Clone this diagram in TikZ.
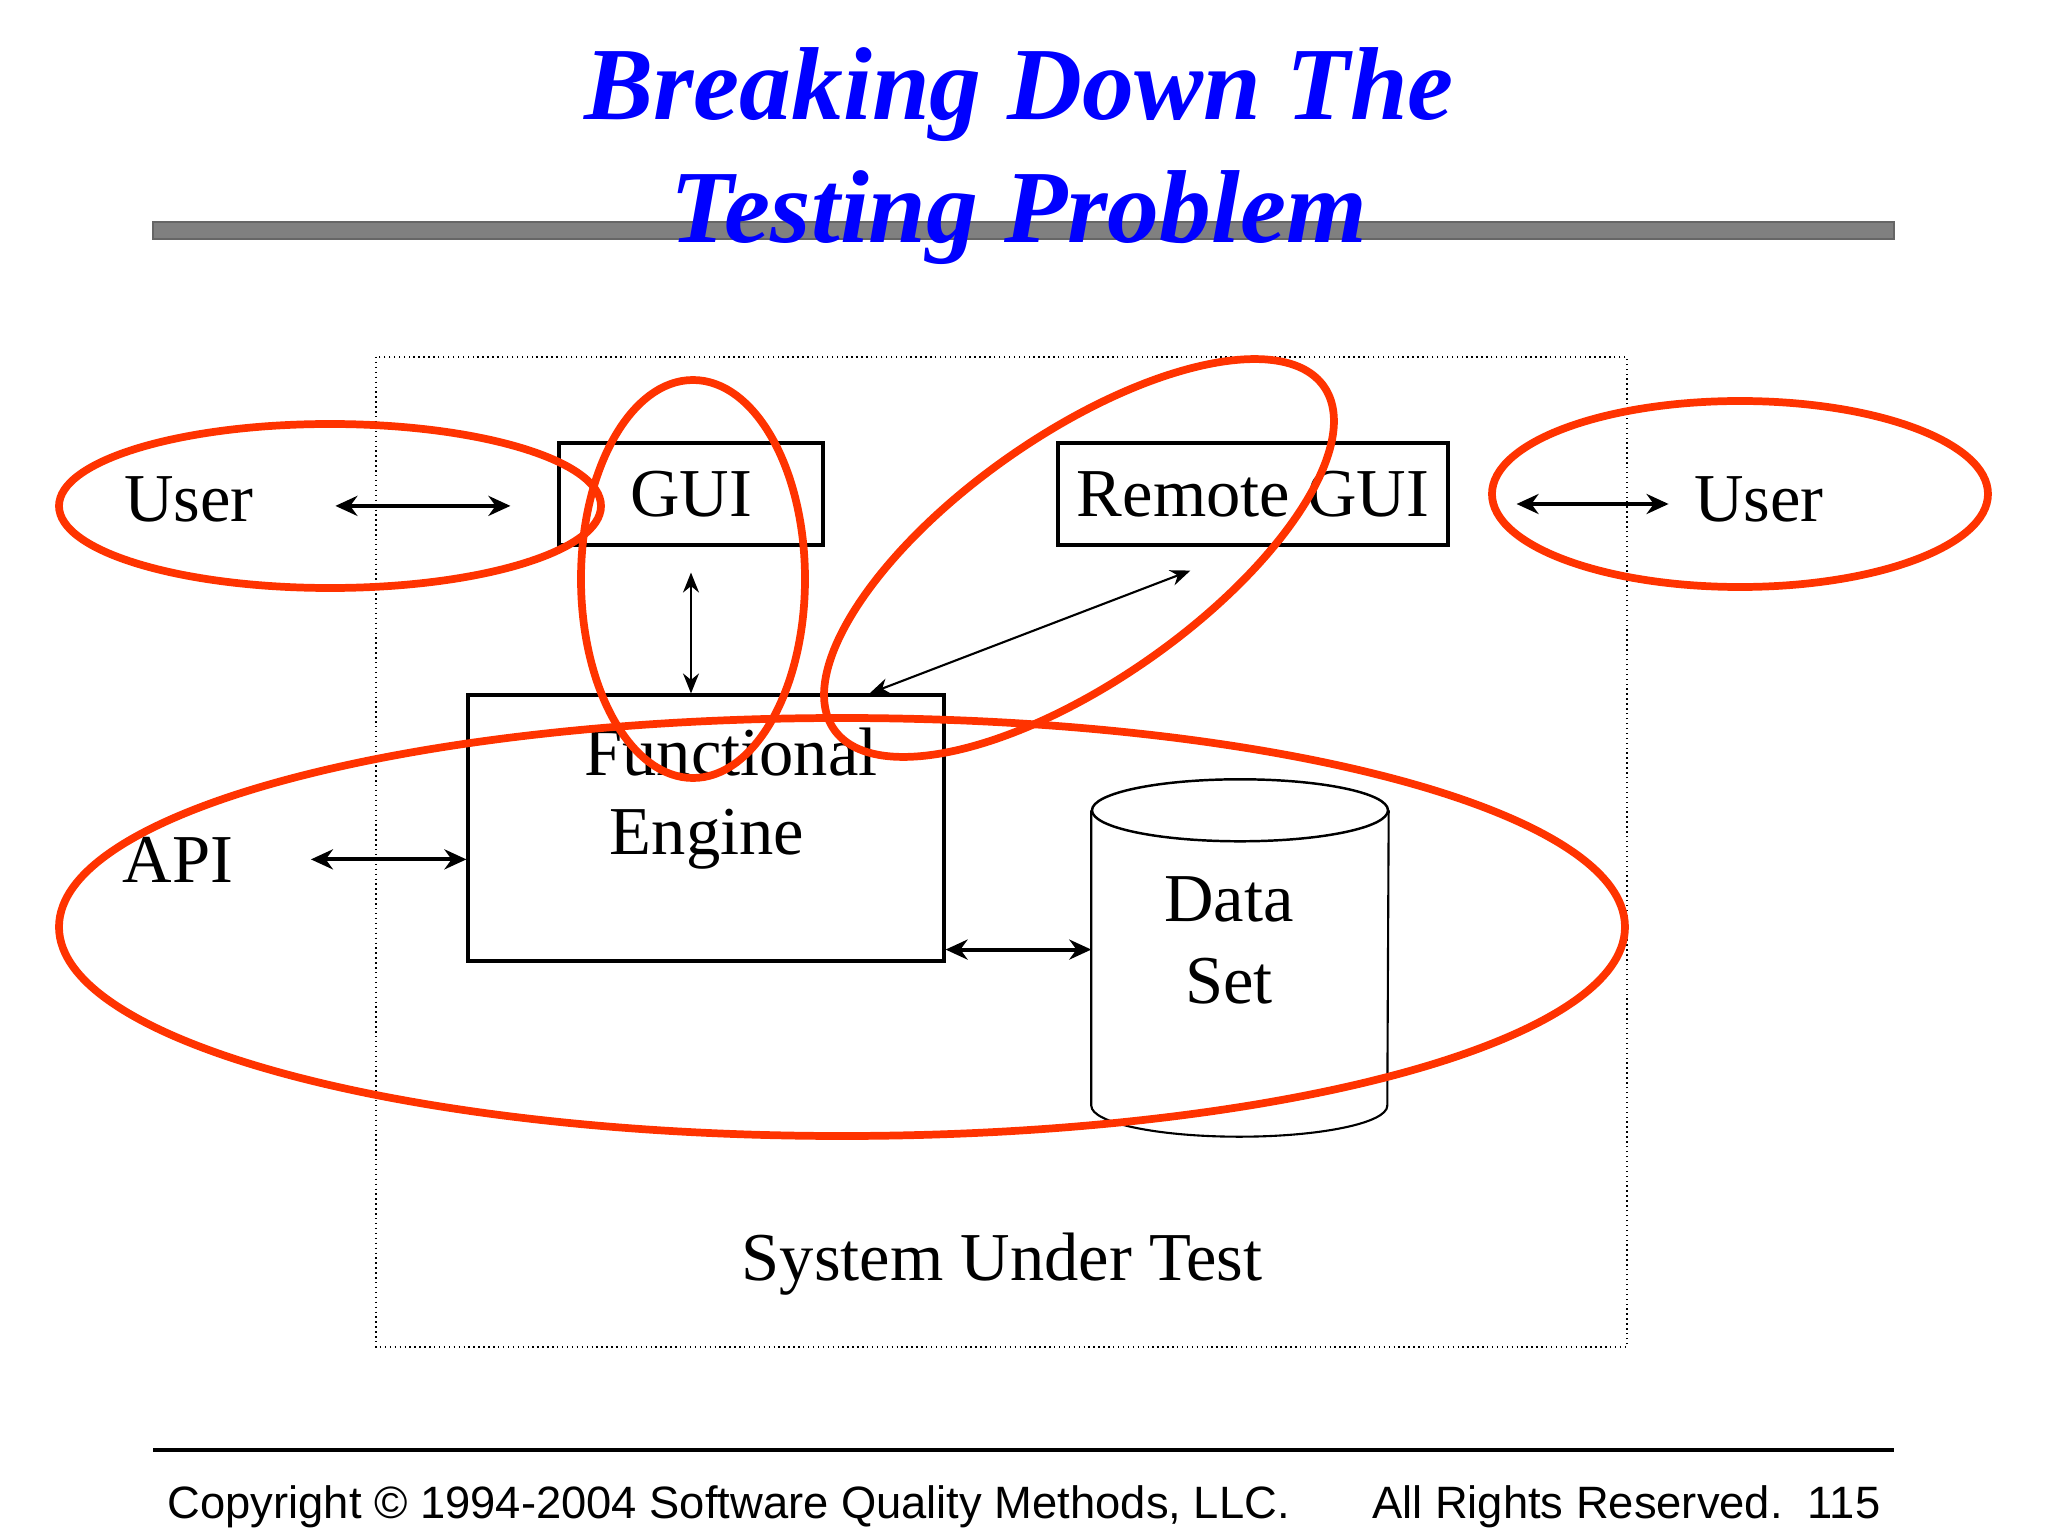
\documentclass[tikz,border=0pt]{standalone}
\usepackage{fontspec}
\setmainfont{Liberation Serif}
\setsansfont{Liberation Sans}
\usetikzlibrary{positioning, calc, arrows.meta}
\definecolor{ringred}{RGB}{255,51,0}
\definecolor{headblue}{RGB}{0,0,255}
\tikzstyle{Head} = [inner sep=0pt, text=headblue,
font=\fontsize{29.5}{35}\selectfont\bfseries\itshape]
\tikzstyle{Word} = [inner sep=0pt, font=\fontsize{19.5}{23.3}\selectfont]
\tikzstyle{Foot} = [inner sep=0pt, font=\sffamily\fontsize{12.9}{15}\selectfont]
\tikzstyle{Box} = [draw, line width=0.9pt, inner sep=0pt]
\tikzstyle{Both} = [line width=1.1pt,
{Stealth[length=0.22cm,width=0.2cm]}-{Stealth[length=0.22cm,width=0.2cm]}]
\tikzstyle{Thin} = [line width=0.6pt,
{Stealth[length=0.2cm,width=0.16cm]}-{Stealth[length=0.2cm,width=0.16cm]}]
\tikzstyle{Ring} = [draw=ringred, line width=2.2pt]

\begin{document}
\begin{tikzpicture}
    \useasboundingbox (0,0) rectangle (20.48,-15.36);
    \fill[white] (0,0) rectangle (20.48,-15.36);
    \draw[line width=0.4pt, densely dotted] (3.76,-3.57) rectangle (16.27,-13.47);
    \draw[fill=gray, draw=black!60, line width=0.6pt] (1.53,-2.22) rectangle (18.94,-2.39);

    \node [Head, anchor=base] (t1) at (10.19,-1.20) {Breaking Down The};
    \node [Head, anchor=base] (t2) at (10.19,-2.43) {Testing Problem};

    \node [Word, anchor=base] (1) at (1.89,-5.22) {User};
    \node [Box, Word, minimum width=2.64cm, minimum height=1.02cm] (2) at (6.91,-4.94) {GUI};
    \node [Box, Word, minimum width=3.90cm, minimum height=1.02cm] (3) at (12.53,-4.94) {Remote GUI};
    \node [Word, anchor=base] (4) at (17.59,-5.22) {User};
    \node [Box, minimum width=4.76cm, minimum height=2.66cm] (5) at (7.06,-8.28) {};
    \node [Word, anchor=base] (6) at (7.31,-7.75) {Functional};
    \node [Word, anchor=base] (7) at (7.07,-8.55) {Engine};
    \node [Word, anchor=base] (8) at (1.78,-8.82) {API};
    \node [inner sep=0pt, minimum width=2.96cm, minimum height=3.56cm] (9) at (12.40,-9.58) {};
    \node [Word, align=center] (10) at (12.29,-9.40) {Data\\Set};
    \node [Word, anchor=base] (11) at (10.02,-12.80) {System Under Test};

    % data set drum
    \draw[line width=0.7pt] ([yshift=-0.31cm]9.north) ellipse [x radius=1.48, y radius=0.31];
    \draw[line width=0.6pt] ([yshift=-0.31cm]9.north west) -- ([yshift=0.31cm]9.south west)
        arc [start angle=180, end angle=360, x radius=1.48, y radius=0.31]
        -- ([yshift=-0.31cm]9.north east);

    \draw[Both, shorten <=0.81cm, shorten >=0.47cm] ([yshift=-0.06cm]1.east) -- ([yshift=-0.06cm]1.east -| 2.west);
    \draw[Thin] ([yshift=-0.26cm]2.south) -- (2.south |- 5.north);
    \draw[Thin] ([xshift=-0.76cm]5.north east) -- ([xshift=1.34cm, yshift=-0.24cm]3.south west);
    \draw[Both, shorten <=0.67cm, shorten >=0.25cm] ([yshift=-0.1cm]3.east) -- ([yshift=-0.1cm]3.east -| 4.west);
    \draw[Both, shorten <=0.77cm] (8.east) -- (8.east -| 5.west);
    \draw[Both] ([yshift=0.13cm]5.south east) -- ([yshift=0.13cm]5.south east -| 9.west);

    \draw[Ring] (3.30,-5.06) ellipse [x radius=2.71, y radius=0.82];
    \draw[Ring] (6.93,-5.79) ellipse [x radius=1.12, y radius=1.99];
    \draw[Ring, rotate around={35:(10.79,-5.58)}] (10.79,-5.58) ellipse [x radius=2.99, y radius=1.23];
    \draw[Ring] (17.40,-4.94) ellipse [x radius=2.48, y radius=0.93];
    \draw[Ring] (8.42,-9.27) ellipse [x radius=7.83, y radius=2.09];

    \draw[line width=0.9pt] (1.53,-14.50) -- (18.94,-14.50);
    \node [Foot, anchor=base west] (12) at (1.67,-15.18) {Copyright © 1994-2004 Software Quality Methods, LLC.};
    \node [Foot, anchor=base east] (13) at (18.81,-15.18) {All Rights Reserved.\ \ 115};
\end{tikzpicture}
\end{document}
